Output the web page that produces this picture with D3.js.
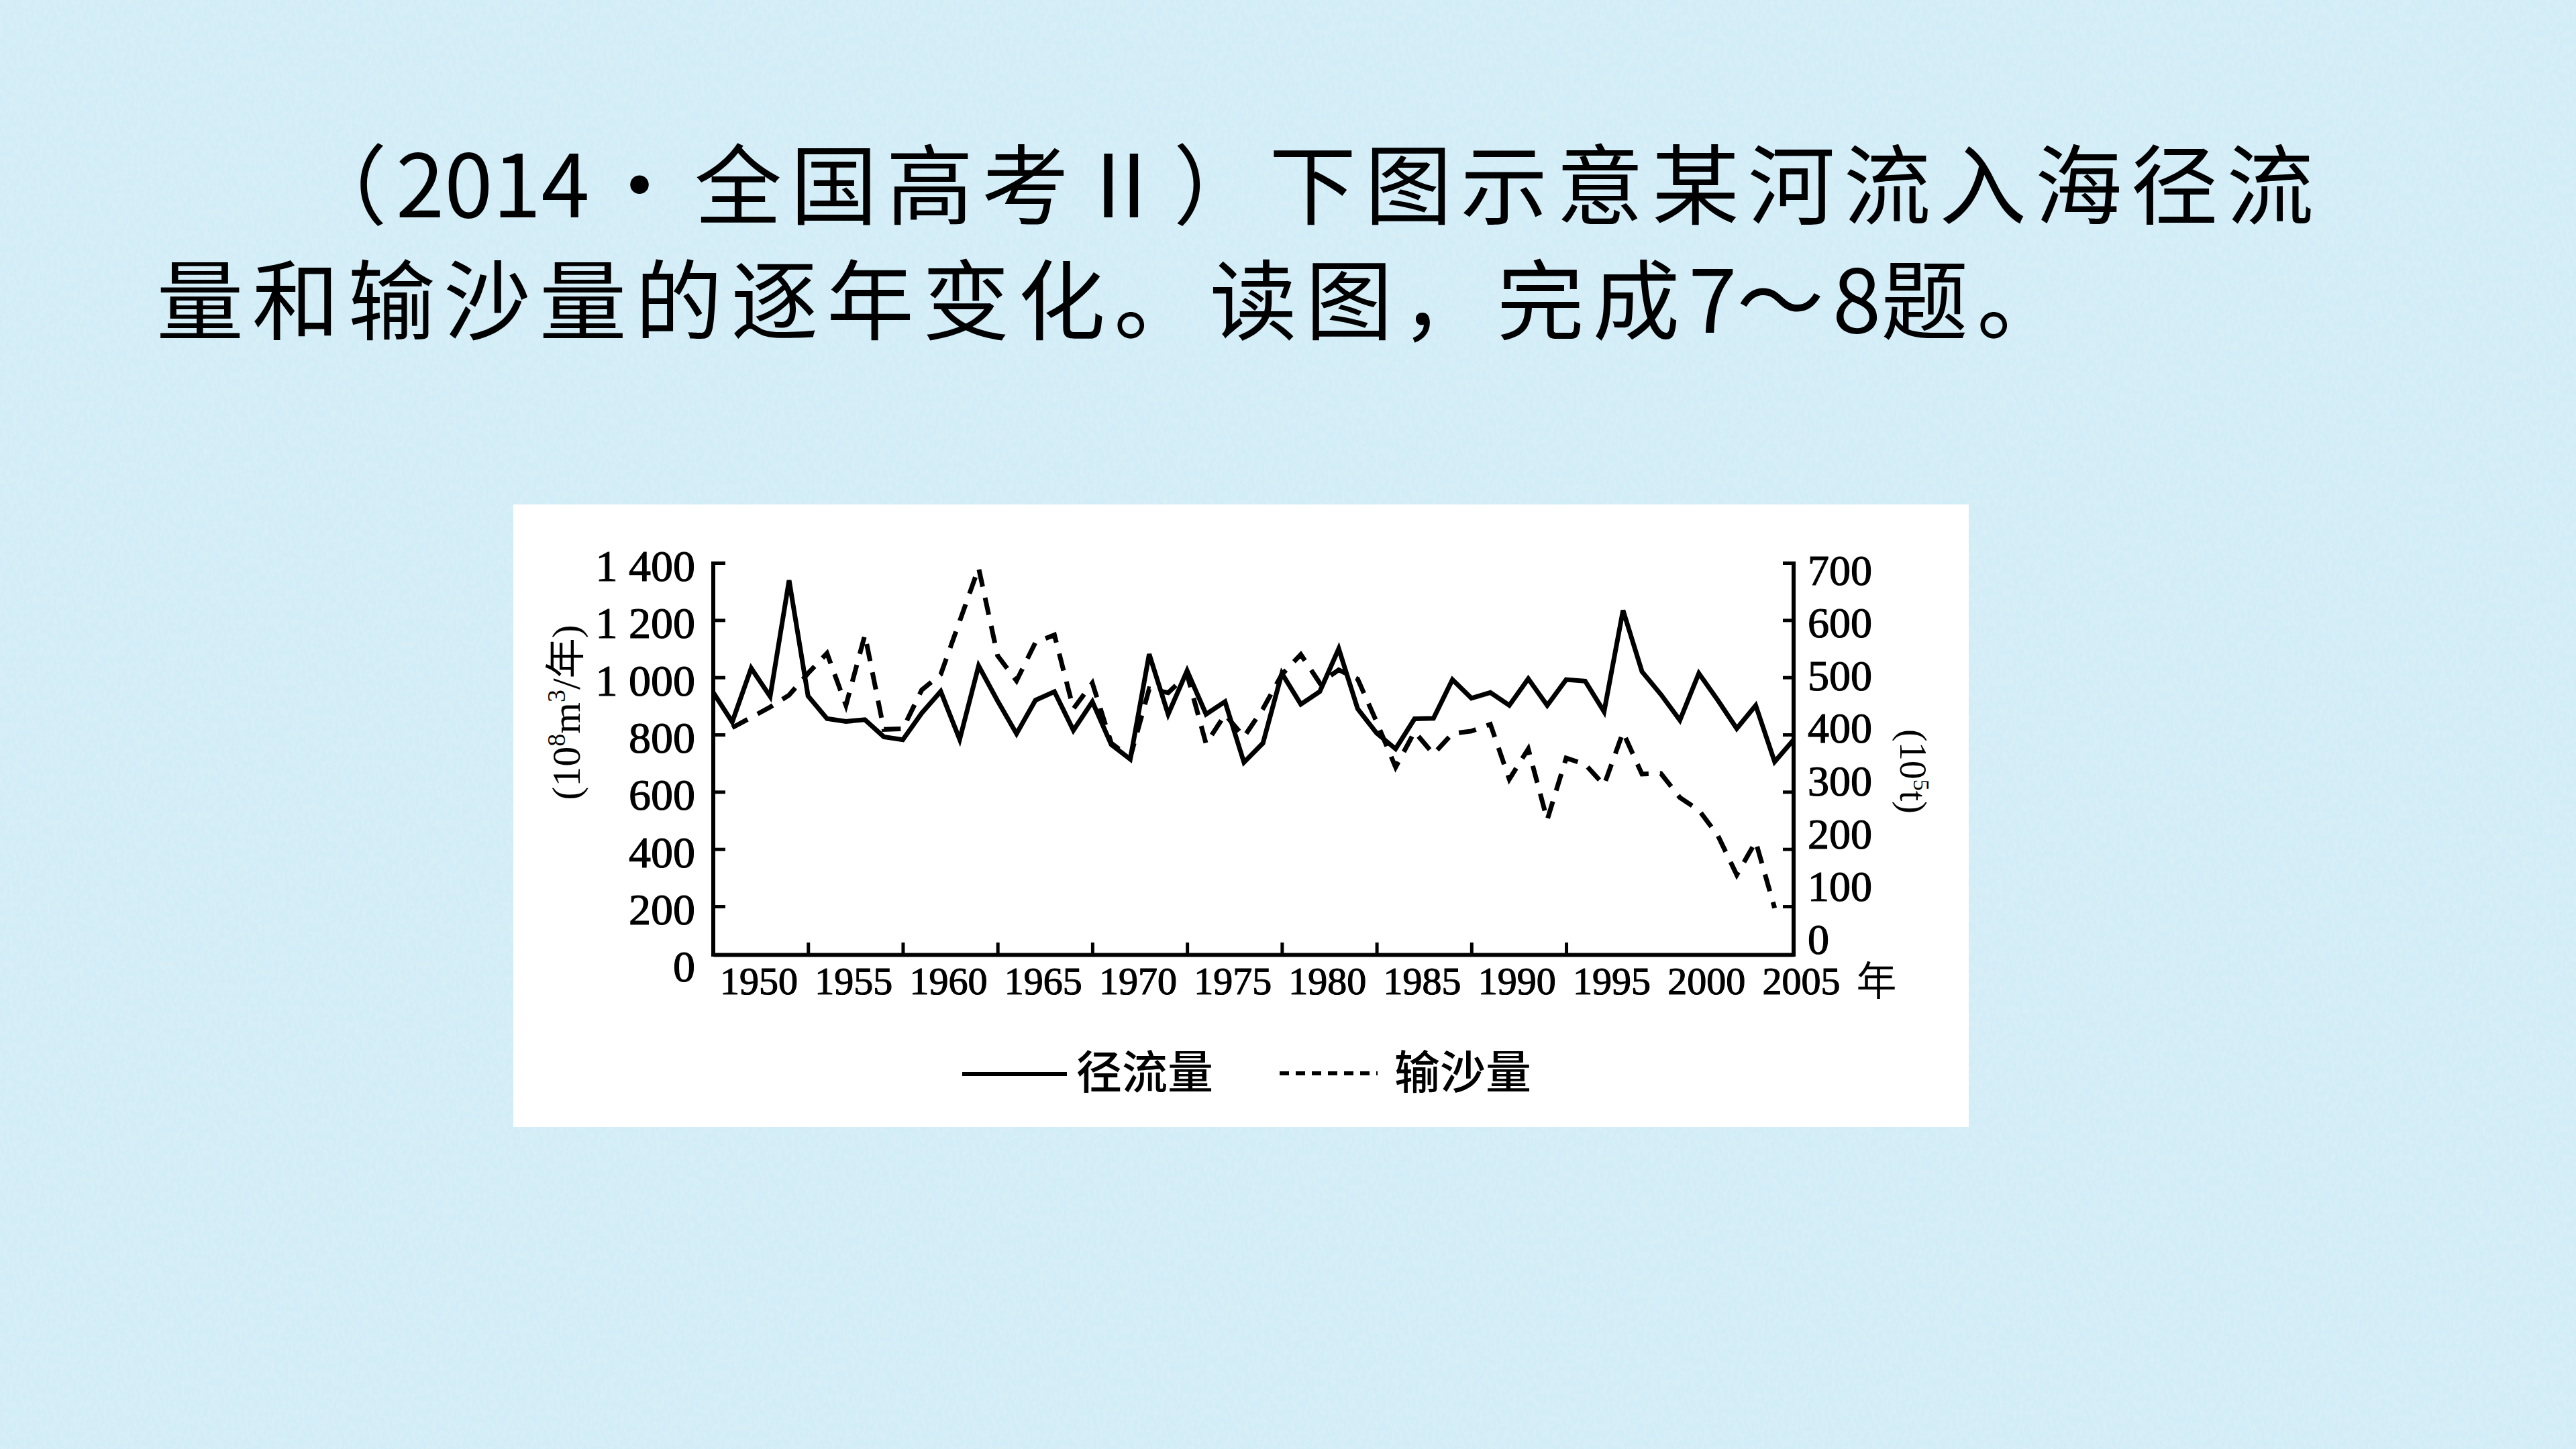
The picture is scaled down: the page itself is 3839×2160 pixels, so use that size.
<!DOCTYPE html>
<html>
<head>
<meta charset="utf-8">
<script src="https://cdn.jsdelivr.net/npm/d3@7"></script>
<style>
body { margin:0; overflow:hidden; background:#cde9f3; }
svg { display:block; }
</style>
</head>
<body>
<script>
var width = 3839;
var height = 2160;

// runoff, 10^8 m3 per year (left axis)
var years = [1950,1951,1952,1953,1954,1955,1956,1957,1958,1959,
             1960,1961,1962,1963,1964,1965,1966,1967,1968,1969,
             1970,1971,1972,1973,1974,1975,1976,1977,1978,1979,
             1980,1981,1982,1983,1984,1985,1986,1987,1988,1989,
             1990,1991,1992,1993,1994,1995,1996,1997,1998,1999,
             2000,2001,2002,2003,2004,2005,2006,2007];
var runoff = [947,844,1032,933,1339,935,856,846,852,792,
              782,875,951,783,1040,918,803,920,950,815,
              915,765,714,1081,871,1023,871,915,703,770,
              1014,906,950,1100,890,805,750,855,857,992,
              927,947,902,995,902,992,987,880,1234,1020,
              940,850,1014,920,821,902,705,782];

// sediment, 10^5 t (right axis)
var sedYears = [1951,1952,1953,1954,1955,1956,1957,1958,1959,
                1960,1961,1962,1963,1964,1965,1966,1967,1968,1969,
                1970,1971,1972,1973,1974,1975,1976,1977,1978,1979,
                1980,1981,1982,1983,1984,1985,1986,1987,1988,1989,
                1990,1991,1992,1993,1994,1995,1996,1997,1998,1999,
                2000,2001,2002,2003,2004,2005,2006];
var sediment = [412,430,448,469,507,542,451,574,409,
                410,478,505,598,691,538,494,561,574,445,
                490,385,360,480,473,505,384,435,396,445,
                505,540,490,513,497,422,343,405,366,402,
                406,418,322,375,251,359,348,312,404,331,
                332,290,268,224,155,213,97];

var leftTicks = [0,200,400,600,800,1000,1200,1400];
var rightTicks = [0,100,200,300,400,500,600,700];
var xTickYears = [1955,1960,1965,1970,1975,1980,1985,1990,1995];
var xLabelYears = [1950,1955,1960,1965,1970,1975,1980,1985,1990,1995,2000,2005];
var legendNames = ["径流量","输沙量"];

var serif = "'Liberation Serif','Times New Roman','DejaVu Serif','Noto Sans CJK SC',serif";
var cjk = "'Noto Sans CJK SC','Noto Sans',sans-serif";

var svg = d3.select("body")
.append("svg")
.attr("width",width)
.attr("height",height);

// paper texture background
var defs = svg.append("defs");
var paper = defs.append("filter")
.attr("id","paper")
.attr("x",0).attr("y",0).attr("width","100%").attr("height","100%");
paper.append("feTurbulence")
.attr("type","fractalNoise")
.attr("baseFrequency","0.2 0.09")
.attr("numOctaves",2)
.attr("seed",7)
.attr("result","noise");
paper.append("feColorMatrix")
.attr("in","noise")
.attr("type","matrix")
.attr("values","0 0 0 0 0.70  0 0 0 0 0.86  0 0 0 0 0.93  2.2 0 0 0 -0.85");

svg.append("rect")
.attr("width",width).attr("height",height)
.attr("fill","#d2edf7");
svg.append("rect")
.attr("width",width).attr("height",height)
.attr("filter","url(#paper)");

// title
var t1 = svg.append("text")
.attr("y",324)
.attr("font-family",cjk)
.attr("font-size",130)
.attr("fill","#000");
t1.append("tspan").attr("x",447).text("（");
t1.append("tspan").attr("x",590).text("2014");
t1.append("tspan").attr("x",953).attr("text-anchor","middle").text("•");
t1.append("tspan").attr("x",1035).style("letter-spacing","12.7px").text("全国高考Ⅱ）下图示意某河流入海径流");

var t2 = svg.append("text")
.attr("x",233)
.attr("y",496)
.attr("font-family",cjk)
.attr("font-size",130)
.attr("fill","#000")
.style("letter-spacing","12.7px");
t2.append("tspan").text("量和输沙量的逐年变化。读图，完成");
t2.append("tspan").style("letter-spacing","0px").text("7");
t2.append("tspan").text("～");
t2.append("tspan").style("letter-spacing","0px").text("8");
t2.append("tspan").text("题。");

// chart panel
svg.append("rect")
.attr("x",765).attr("y",752)
.attr("width",2169).attr("height",928)
.attr("fill","#fff");

var x = d3.scaleLinear().domain([1950,2007]).range([1063,2673]);
var yL = d3.scaleLinear().domain([0,1400]).range([1436.4,839]);
var yR = d3.scaleLinear().domain([0,700]).range([1436.4,839]);
var yRLabel = d3.scaleLinear().domain([0,700]).range([1400,849.5]);
var axisY = 1423;

var runLine = d3.line()
.x(function(d,i){ return x(years[i]); })
.y(function(d){ return yL(d); });

var sedLine = d3.line()
.x(function(d,i){ return x(sedYears[i]); })
.y(function(d){ return yR(d); });

svg.append("path")
.datum(sediment)
.attr("d",sedLine)
.attr("fill","none")
.attr("stroke","#000")
.attr("stroke-width",7)
.attr("stroke-dasharray","26,17");

svg.append("path")
.datum(runoff)
.attr("d",runLine)
.attr("fill","none")
.attr("stroke","#000")
.attr("stroke-width",7);

// axes
var gx = svg.append("g")
.attr("transform","translate(0,"+axisY+")")
.call(d3.axisBottom(x).tickValues(xTickYears).tickSizeInner(-18).tickSizeOuter(0).tickFormat(""));
gx.select(".domain").attr("stroke-width",6);
gx.selectAll(".tick line").attr("stroke-width",5);

var gl = svg.append("g")
.attr("transform","translate(1063,0)")
.call(d3.axisLeft(yL).tickValues(leftTicks.slice(1)).tickSizeInner(-18).tickSizeOuter(0).tickFormat(""));
gl.select(".domain").remove();
gl.selectAll(".tick line").attr("stroke-width",5);
svg.append("line")
.attr("x1",x(1950)).attr("x2",x(1950))
.attr("y1",axisY+3).attr("y2",yL(1400)-2)
.attr("stroke","#000").attr("stroke-width",6);

var gr = svg.append("g")
.attr("transform","translate(2673,0)")
.call(d3.axisRight(yR).tickValues(rightTicks.slice(1)).tickSizeInner(-16).tickSizeOuter(0).tickFormat(""));
gr.select(".domain").remove();
gr.selectAll(".tick line").attr("stroke-width",5);
svg.append("line")
.attr("x1",x(2007)).attr("x2",x(2007))
.attr("y1",axisY+3).attr("y2",yR(700)-2)
.attr("stroke","#000").attr("stroke-width",6);

// tick labels
function fmtLeft(v){
	if(v >= 1000){
		return Math.floor(v/1000) + " " + d3.format("03")(v%1000);
	}
	return String(v);
}

svg.selectAll(".yl")
.data(leftTicks)
.enter()
.append("text")
.attr("x",1036)
.attr("y",function(d){ return yL(d) + 27; })
.attr("text-anchor","end")
.attr("font-family",serif)
.attr("font-size",66)
.attr("fill","#000")
.attr("stroke","#000")
.attr("stroke-width",1.2)
.text(fmtLeft);

svg.selectAll(".yr")
.data(rightTicks)
.enter()
.append("text")
.attr("x",2694)
.attr("y",function(d){ return yRLabel(d) + 22; })
.attr("font-family",serif)
.attr("font-size",64)
.attr("fill","#000")
.attr("stroke","#000")
.attr("stroke-width",1.2)
.text(function(d){ return d; });

svg.selectAll(".xl")
.data(xLabelYears)
.enter()
.append("text")
.attr("x",function(d){ return x(d) + 10; })
.attr("y",1482)
.attr("font-family",serif)
.attr("font-size",58)
.attr("fill","#000")
.attr("stroke","#000")
.attr("stroke-width",1.2)
.text(function(d){ return d; });

svg.append("text")
.attr("x",x(2005) + 150)
.attr("y",1484)
.attr("font-family",cjk)
.attr("font-size",60)
.attr("fill","#000")
.text("年");

// unit labels
var ul = svg.append("text")
.attr("transform","translate(864,1062) rotate(-90)")
.attr("text-anchor","middle")
.attr("font-family",serif)
.attr("font-size",60)
.attr("fill","#000");
ul.append("tspan").text("(10");
ul.append("tspan").attr("dy",-22).attr("font-size",38).text("8");
ul.append("tspan").attr("dy",22).text("m");
ul.append("tspan").attr("dy",-22).attr("font-size",38).text("3");
ul.append("tspan").attr("dy",22).text("/年)");

var ur = svg.append("text")
.attr("transform","translate(2832,1150) rotate(90)")
.attr("text-anchor","middle")
.attr("font-family",serif)
.attr("font-size",56)
.attr("fill","#000");
ur.append("tspan").text("(10");
ur.append("tspan").attr("dy",-20).attr("font-size",34).text("5");
ur.append("tspan").attr("dy",20).text("t)");

// legend
svg.append("line")
.attr("x1",1434).attr("x2",1590)
.attr("y1",1601).attr("y2",1601)
.attr("stroke","#000").attr("stroke-width",6);
svg.append("text")
.attr("x",1604).attr("y",1623)
.attr("font-family",cjk)
.attr("font-size",68)
.attr("font-weight",500)
.attr("fill","#000")
.text(legendNames[0]);

svg.append("line")
.attr("x1",1907).attr("x2",2053)
.attr("y1",1600).attr("y2",1600)
.attr("stroke","#000").attr("stroke-width",6)
.attr("stroke-dasharray","14,10");
svg.append("text")
.attr("x",2078).attr("y",1623)
.attr("font-family",cjk)
.attr("font-size",68)
.attr("font-weight",500)
.attr("fill","#000")
.text(legendNames[1]);
</script>
</body>
</html>
